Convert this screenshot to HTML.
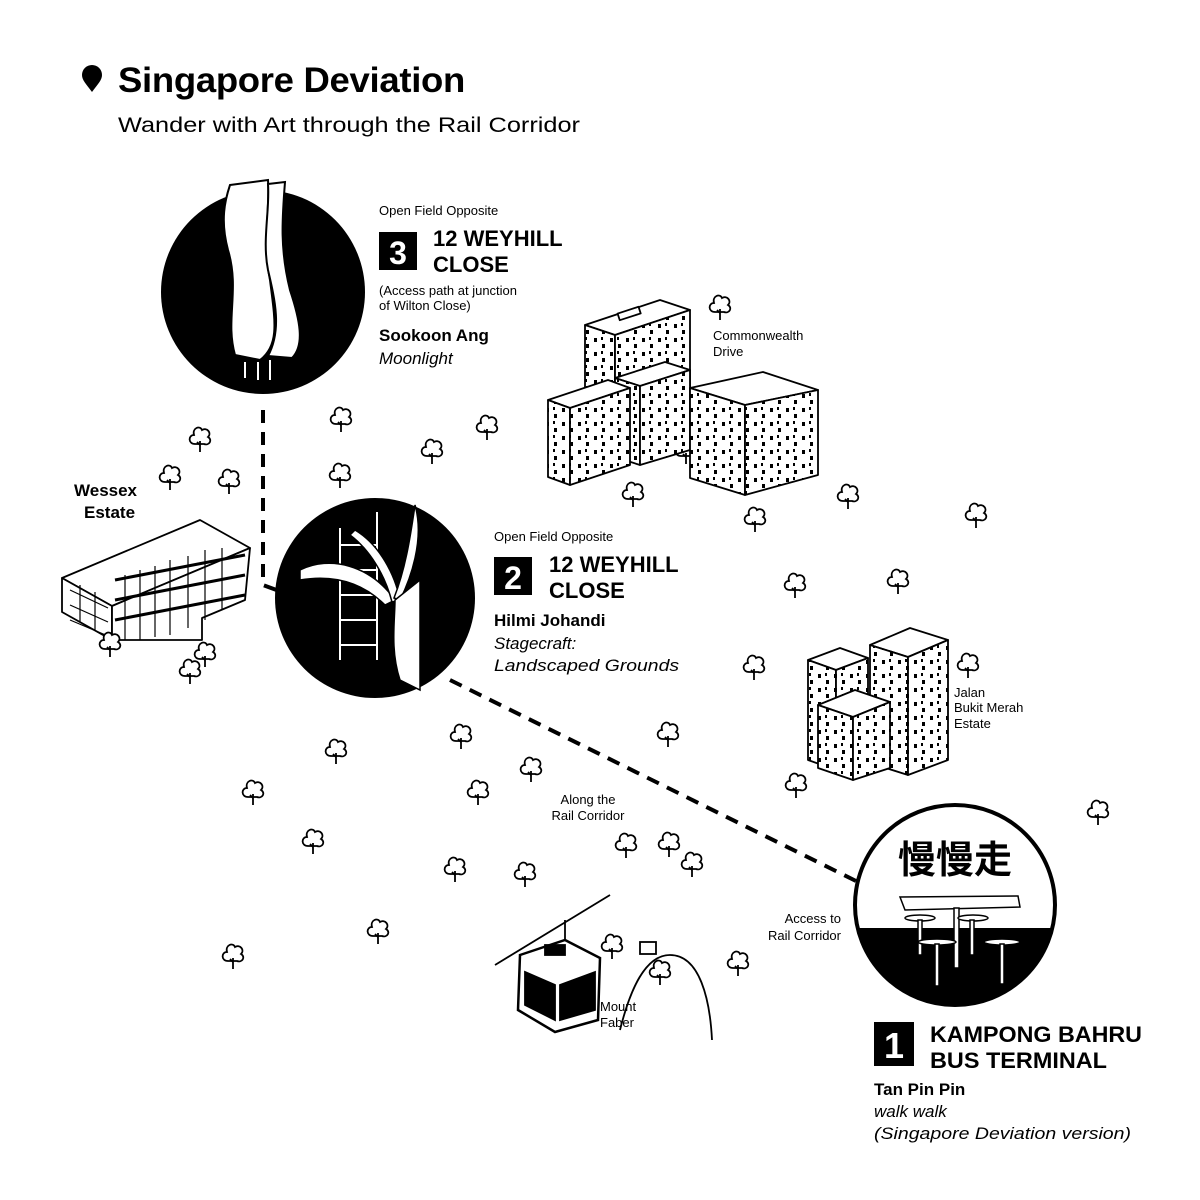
<!DOCTYPE html>
<html><head><meta charset="utf-8"><style>
html,body{margin:0;padding:0;background:#fff}
svg{display:block}
text{font-family:"Liberation Sans","Noto Sans CJK SC",sans-serif;fill:#000}
.s{font-size:13px}
.b{font-weight:bold}
.i{font-style:italic}
</style></head><body>
<svg width="1200" height="1200" viewBox="0 0 1200 1200" xmlns="http://www.w3.org/2000/svg">
<defs>
<pattern id="win" width="16" height="14" patternUnits="userSpaceOnUse">
<rect width="16" height="14" fill="#fff"/>
<rect x="2" y="2" width="3" height="4" fill="#000"/>
<rect x="10" y="8" width="3" height="4" fill="#000"/>
<rect x="9" y="1" width="2" height="3" fill="#000"/>
</pattern>
<g id="tr" fill="#fff" stroke="#000" stroke-width="1.8">
<path d="M-5,6 C-12,6 -12,-3 -6,-3 C-8,-10 0,-13 2,-8 C7,-11 12,-5 8,-1 C13,2 9,8 4,6 Z"/>
<line x1="0" y1="3" x2="0" y2="14"/>
<line x1="0" y1="7" x2="-3" y2="4"/>
</g>
</defs>

<!-- title -->
<path d="M92,92 C86,84 82,80 82,75 A10,10 0 0 1 102,75 C102,80 98,84 92,92 Z" fill="#000"/>
<text x="118" y="92" font-size="35" class="b" letter-spacing="-0.3" textLength="347" lengthAdjust="spacingAndGlyphs">Singapore Deviation</text>
<text x="118" y="132" font-size="21" textLength="462" lengthAdjust="spacingAndGlyphs">Wander with Art through the Rail Corridor</text>

<!-- dashed paths -->
<path d="M263,410 L263,585 L282,592" fill="none" stroke="#000" stroke-width="4" stroke-dasharray="13,9"/>
<path d="M450,680 L858,882" fill="none" stroke="#000" stroke-width="4" stroke-dasharray="13,9"/>

<!-- trees -->
<g>
<use href="#tr" x="341" y="418"/><use href="#tr" x="487" y="426"/><use href="#tr" x="200" y="438"/>
<use href="#tr" x="432" y="450"/><use href="#tr" x="170" y="476"/><use href="#tr" x="340" y="474"/>
<use href="#tr" x="229" y="480"/><use href="#tr" x="633" y="493"/><use href="#tr" x="720" y="306"/>
<use href="#tr" x="686" y="450"/><use href="#tr" x="755" y="518"/><use href="#tr" x="848" y="495"/>
<use href="#tr" x="976" y="514"/><use href="#tr" x="795" y="584"/><use href="#tr" x="898" y="580"/>
<use href="#tr" x="754" y="666"/><use href="#tr" x="968" y="664"/><use href="#tr" x="668" y="733"/>
<use href="#tr" x="461" y="735"/><use href="#tr" x="336" y="750"/><use href="#tr" x="531" y="768"/>
<use href="#tr" x="253" y="791"/><use href="#tr" x="478" y="791"/><use href="#tr" x="796" y="784"/>
<use href="#tr" x="313" y="840"/><use href="#tr" x="455" y="868"/><use href="#tr" x="626" y="844"/>
<use href="#tr" x="669" y="843"/><use href="#tr" x="692" y="863"/><use href="#tr" x="525" y="873"/>
<use href="#tr" x="1098" y="811"/><use href="#tr" x="378" y="930"/><use href="#tr" x="233" y="955"/>
<use href="#tr" x="738" y="962"/><use href="#tr" x="612" y="945"/><use href="#tr" x="660" y="971"/>
</g>

<!-- Commonwealth buildings -->
<g stroke="#000" stroke-width="1.8" stroke-linejoin="round">
<polygon points="585,325 660,300 690,310 615,335" fill="#fff"/>
<polygon points="585,325 615,335 615,420 585,410" fill="url(#win)"/>
<polygon points="615,335 690,310 690,395 615,420" fill="url(#win)"/>
<rect x="618" y="310" width="22" height="7" fill="#fff" transform="rotate(-18 629 313)"/>
<polygon points="615,378 665,362 690,370 640,386" fill="#fff"/>
<polygon points="615,378 640,386 640,465 615,457" fill="url(#win)"/>
<polygon points="640,386 690,370 690,450 640,465" fill="url(#win)"/>
<polygon points="548,400 608,380 630,388 570,408" fill="#fff"/>
<polygon points="548,400 570,408 570,485 548,477" fill="url(#win)"/>
<polygon points="570,408 630,388 630,465 570,485" fill="url(#win)"/>
<polygon points="690,388 763,372 818,390 745,405" fill="#fff"/>
<polygon points="690,388 745,405 745,495 690,478" fill="url(#win)"/>
<polygon points="745,405 818,390 818,475 745,495" fill="url(#win)"/>
</g>
<text x="713" y="340" class="s">Commonwealth</text>
<text x="713" y="356" class="s">Drive</text>

<!-- Jalan Bukit Merah buildings -->
<g stroke="#000" stroke-width="1.8" stroke-linejoin="round">
<polygon points="870,645 910,628 948,640 908,657" fill="#fff"/>
<polygon points="870,645 908,657 908,775 870,763" fill="url(#win)"/>
<polygon points="908,657 948,640 948,760 908,775" fill="url(#win)"/>
<polygon points="808,660 840,648 868,658 836,670" fill="#fff"/>
<polygon points="808,660 836,670 836,770 808,760" fill="url(#win)"/>
<polygon points="836,670 868,658 868,758 836,770" fill="url(#win)"/>
<polygon points="818,705 855,690 890,702 853,717" fill="#fff"/>
<polygon points="818,705 853,717 853,780 818,768" fill="url(#win)"/>
<polygon points="853,717 890,702 890,768 853,780" fill="url(#win)"/>
</g>
<text x="954" y="697" class="s">Jalan</text>
<text x="954" y="712" class="s">Bukit Merah</text>
<text x="954" y="728" class="s">Estate</text>

<!-- Wessex -->
<g stroke="#000" stroke-width="1.8" fill="#fff" stroke-linejoin="round">
<polygon points="62,578 200,520 250,548 112,606"/>
<polygon points="62,578 112,606 112,640 62,612"/>
<polygon points="112,606 250,548 245,600 202,618 202,640 112,640"/>
<g stroke-width="3">
<line x1="115" y1="580" x2="245" y2="555"/>
<line x1="115" y1="600" x2="245" y2="575"/>
<line x1="115" y1="620" x2="245" y2="595"/>
</g>
<g stroke-width="1.2">
<line x1="70" y1="590" x2="108" y2="608"/><line x1="70" y1="605" x2="108" y2="622"/>
<line x1="70" y1="620" x2="108" y2="636"/>
<line x1="125" y1="575" x2="125" y2="640"/><line x1="140" y1="570" x2="140" y2="640"/><line x1="155" y1="566" x2="155" y2="637"/><line x1="170" y1="560" x2="170" y2="635"/><line x1="188" y1="556" x2="188" y2="628"/><line x1="205" y1="550" x2="205" y2="620"/><line x1="222" y1="548" x2="222" y2="610"/>
<line x1="80" y1="585" x2="80" y2="622"/><line x1="95" y1="592" x2="95" y2="630"/>
</g>
</g>
<use href="#tr" x="110" y="643"/><use href="#tr" x="205" y="653"/><use href="#tr" x="190" y="670"/>
<text x="74" y="496" font-size="17" class="b">Wessex</text>
<text x="84" y="518" font-size="17" class="b">Estate</text>

<!-- cable car & Mount Faber -->
<g stroke="#000" stroke-width="1.8" fill="none">
<line x1="495" y1="965" x2="610" y2="895"/>
<path d="M620,1030 C630,990 645,955 670,955 C700,955 710,1000 712,1040"/>
<rect x="640" y="942" width="16" height="12" fill="#fff"/>
<line x1="565" y1="920" x2="565" y2="940"/>
<path d="M520,955 L565,940 L600,958 L598,1020 L555,1032 L518,1010 Z" fill="#fff" stroke-width="2.5"/>
<path d="M525,972 L555,985 L555,1020 L525,1005 Z" fill="#000"/>
<path d="M560,985 L595,972 L595,1010 L560,1020 Z" fill="#000"/>
<rect x="545" y="945" width="20" height="10" fill="#000"/>
</g>
<text x="600" y="1011" class="s">Mount</text>
<text x="600" y="1027" class="s">Faber</text>

<text x="588" y="804" class="s" text-anchor="middle">Along the</text>
<text x="588" y="820" class="s" text-anchor="middle">Rail Corridor</text>
<text x="841" y="923" class="s" text-anchor="end">Access to</text>
<text x="841" y="940" class="s" text-anchor="end">Rail Corridor</text>

<!-- Circle 3 -->
<circle cx="263" cy="292" r="102" fill="#000"/>
<g fill="#fff" stroke="#000" stroke-width="2">
<path d="M230,185 L268,180 C270,215 262,240 270,280 C275,320 280,345 260,360 L235,355 C225,320 240,290 228,250 C220,220 225,200 230,185 Z"/>
<path d="M268,184 L285,182 C282,220 280,250 290,290 C300,320 305,345 292,358 L268,356 C282,330 275,300 268,270 C262,240 270,210 268,184 Z"/>
</g>
<g stroke="#fff" stroke-width="2"><line x1="245" y1="362" x2="245" y2="378"/><line x1="258" y1="362" x2="258" y2="380"/><line x1="270" y1="360" x2="270" y2="380"/></g>

<!-- Circle 2 -->
<circle cx="375" cy="598" r="100" fill="#000"/>
<g stroke="#fff" stroke-width="2" fill="none">
<line x1="340" y1="528" x2="340" y2="660"/><line x1="377" y1="512" x2="377" y2="660"/>
<line x1="340" y1="545" x2="377" y2="545"/><line x1="340" y1="570" x2="377" y2="570"/>
<line x1="340" y1="595" x2="377" y2="595"/><line x1="340" y1="620" x2="377" y2="620"/>
<line x1="340" y1="645" x2="377" y2="645"/>
</g>
<g fill="#fff" stroke="#000" stroke-width="1.5">
<path d="M300,570 C330,555 370,565 395,600 L385,605 C360,580 330,575 300,580 Z"/>
<path d="M355,530 C380,545 395,575 400,600 L392,602 C385,575 370,550 350,535 Z"/>
<path d="M415,505 C425,540 410,580 400,600 L394,598 C405,570 410,540 415,505 Z"/>
<path d="M395,600 L420,580 L420,690 L400,680 C390,650 395,620 395,600 Z"/>
</g>

<!-- Circle 1 -->
<clipPath id="c1"><circle cx="955" cy="905" r="100"/></clipPath>
<circle cx="955" cy="905" r="100" fill="#fff"/>
<rect x="850" y="928" width="210" height="90" fill="#000" clip-path="url(#c1)"/>
<circle cx="955" cy="905" r="100" fill="none" stroke="#000" stroke-width="4"/>
<text x="955" y="873" font-size="38" class="b" text-anchor="middle">慢慢走</text>
<g stroke="#000" stroke-width="1.5" fill="#fff">
<polygon points="900,897 1018,896 1020,907 905,910"/>
<rect x="954" y="908" width="5" height="60"/>
<ellipse cx="920" cy="918" rx="15" ry="3"/><rect x="918" y="920" width="4" height="35"/>
<ellipse cx="973" cy="918" rx="15" ry="3"/><rect x="970" y="920" width="4" height="35"/>
<ellipse cx="937" cy="942" rx="19" ry="3"/><rect x="935" y="944" width="4" height="42"/>
<ellipse cx="1002" cy="942" rx="18" ry="3"/><rect x="1000" y="944" width="4" height="40"/>
</g>

<!-- text block 3 -->
<text x="379" y="215" class="s">Open Field Opposite</text>
<rect x="379" y="232" width="38" height="38" fill="#000"/>
<text x="398" y="264" font-size="32" class="b" text-anchor="middle" style="fill:#fff">3</text>
<text x="433" y="246" font-size="22" class="b">12 WEYHILL</text>
<text x="433" y="272" font-size="22" class="b">CLOSE</text>
<text x="379" y="295" class="s">(Access path at junction</text>
<text x="379" y="310" class="s">of Wilton Close)</text>
<text x="379" y="341" font-size="17" class="b">Sookoon Ang</text>
<text x="379" y="364" font-size="17" class="i">Moonlight</text>

<!-- text block 2 -->
<text x="494" y="541" class="s">Open Field Opposite</text>
<rect x="494" y="557" width="38" height="38" fill="#000"/>
<text x="513" y="589" font-size="32" class="b" text-anchor="middle" style="fill:#fff">2</text>
<text x="549" y="572" font-size="22" class="b">12 WEYHILL</text>
<text x="549" y="598" font-size="22" class="b">CLOSE</text>
<text x="494" y="626" font-size="17" class="b">Hilmi Johandi</text>
<text x="494" y="649" font-size="17" class="i">Stagecraft:</text>
<text x="494" y="671" font-size="17" class="i" textLength="185" lengthAdjust="spacingAndGlyphs">Landscaped Grounds</text>

<!-- text block 1 -->
<rect x="874" y="1022" width="40" height="44" fill="#000"/>
<text x="894" y="1058" font-size="36" class="b" text-anchor="middle" style="fill:#fff">1</text>
<text x="930" y="1042" font-size="22" class="b" textLength="212" lengthAdjust="spacingAndGlyphs">KAMPONG BAHRU</text>
<text x="930" y="1068" font-size="22" class="b" textLength="177" lengthAdjust="spacingAndGlyphs">BUS TERMINAL</text>
<text x="874" y="1095" font-size="17" class="b">Tan Pin Pin</text>
<text x="874" y="1117" font-size="17" class="i">walk walk</text>
<text x="874" y="1139" font-size="17" class="i" textLength="257" lengthAdjust="spacingAndGlyphs">(Singapore Deviation version)</text>
</svg>
</body></html>
